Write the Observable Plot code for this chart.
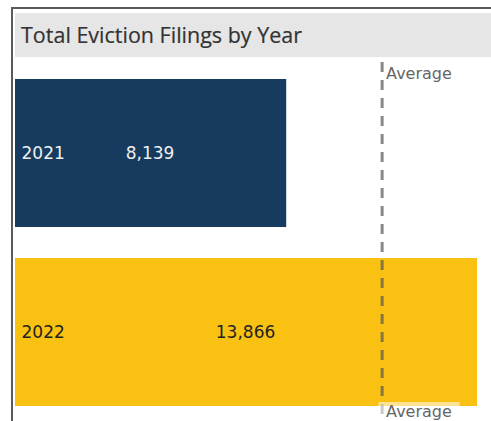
<!DOCTYPE html>
<html>
<head>
<meta charset="utf-8">
<script src="https://cdn.jsdelivr.net/npm/d3@7"></script>
<script src="https://cdn.jsdelivr.net/npm/@observablehq/plot@0.6"></script>
<style>
  html, body { margin: 0; padding: 0; background: #fff; }
  body { width: 491px; height: 421px; position: relative; overflow: hidden; font-family: "DejaVu Sans", sans-serif; }
  #frame { position: absolute; left: 11px; top: 7px; width: 480px; height: 414px; border-left: 2px solid #5a5a5a; border-top: 2px solid #5a5a5a; box-sizing: border-box; }
  #title { position: absolute; left: 15px; top: 13px; width: 476px; height: 44px; background: #e6e6e6; color: #333; font-family: "Open Sans", sans-serif; font-size: 21.5px; line-height: 44px; padding-left: 6px; box-sizing: border-box; white-space: nowrap; -webkit-text-stroke: 0.2px #333; }
  #chart { position: absolute; left: 0; top: 57px; }
</style>
</head>
<body>
<div id="frame"></div>
<div id="title">Total Eviction Filings by Year</div>
<div id="chart"></div>
<script>
const years = ["2021", "2022"];
const filings = [8139, 13866];
const barColors = ["#173b5e", "#f9c212"];
const labelColors = ["#eeeeee", "#222222"];
const averageLabel = "Average";

const data = years.map((y, i) => ({year: y, value: filings[i], color: barColors[i], label: labelColors[i]}));
const avg = d3.mean(filings);
const fmt = d3.format(",");

const chart = Plot.plot({
  width: 491,
  height: 364,
  marginLeft: 15,
  marginRight: 9.5,
  marginTop: 21,
  marginBottom: 14,
  x: {domain: [0, 14000], axis: null},
  y: {domain: years, paddingInner: 0.172, paddingOuter: 0, axis: null},
  style: {fontFamily: "DejaVu Sans, sans-serif", background: "transparent"},
  marks: [
    Plot.barX(data, {x: "value", y: "year", fill: d => d.color}),
    Plot.text(data, {x: 0, y: "year", text: "year", fill: d => d.label, textAnchor: "start", dx: 6, fontSize: 17}),
    Plot.text(data, {x: d => d.value / 2, y: "year", text: d => fmt(d.value), fill: d => d.label, fontSize: 17, dx: -1}),
    Plot.ruleX([avg], {x: d => d, stroke: "#555", strokeOpacity: 0.7, strokeWidth: 3, strokeDasharray: "10,8", insetTop: -16, insetBottom: -14}),
    Plot.rect([avg], {x1: d => d, x2: d => d, fill: "white", fillOpacity: 0.55, insetLeft: -3, insetRight: -78, insetTop: 324, insetBottom: -14}),
    Plot.text([avg], {x: d => d, frameAnchor: "top", lineAnchor: "middle", text: () => averageLabel, textAnchor: "start", dx: 4, dy: -5, fill: "#666", fontSize: 16}),
    Plot.text([avg], {x: d => d, frameAnchor: "bottom", lineAnchor: "middle", text: () => averageLabel, textAnchor: "start", dx: 4, dy: 4, fill: "#666", fontSize: 16})
  ]
});
document.getElementById("chart").appendChild(chart);
</script>
</body>
</html>
